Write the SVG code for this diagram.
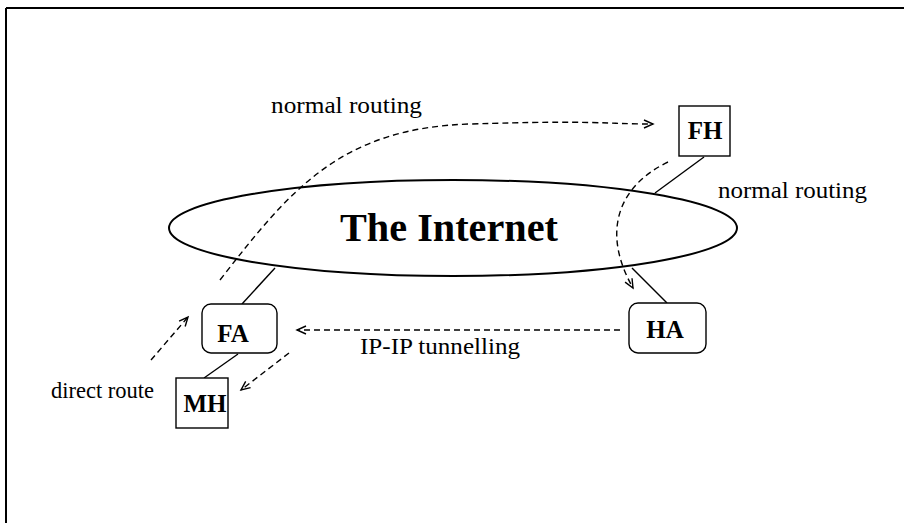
<svg xmlns="http://www.w3.org/2000/svg" width="904" height="523" viewBox="0 0 904 523">
  <style>
    .frame { stroke: #000; stroke-width: 2; fill: none; }
    .box { stroke: #000; stroke-width: 1.4; fill: #fff; }
    .link { stroke: #000; stroke-width: 1.4; fill: none; }
    .route { stroke: #000; stroke-width: 1.4; fill: none; stroke-dasharray: 6 4; marker-end: url(#arrow); }
    .lbl { font-family: "Liberation Serif", "Times New Roman", serif; font-size: 24px; fill: #000; }
    .name { font-family: "Liberation Serif", "Times New Roman", serif; font-size: 25px; font-weight: bold; fill: #000; text-anchor: middle; }
  </style>
  <defs>
    <marker id="arrow" markerWidth="12" markerHeight="10" refX="10" refY="5" orient="auto" markerUnits="userSpaceOnUse">
      <path d="M1,1 L10,5 L1,9" fill="none" stroke="#000" stroke-width="1.4"/>
    </marker>
  </defs>
  <rect width="904" height="523" fill="#fff"/>

  <!-- page frame -->
  <path class="frame" d="M6,8 H904 M6,8 V523"/>

  <!-- the internet cloud -->
  <g id="internet">
    <ellipse cx="453" cy="228" rx="284" ry="48" fill="none" stroke="#000" stroke-width="2"/>
    <text x="449" y="241" font-family="Liberation Serif, Times New Roman, serif" font-size="40" font-weight="bold" text-anchor="middle" textLength="218" lengthAdjust="spacingAndGlyphs">The Internet</text>
  </g>

  <!-- attachment lines and routes -->
  <g id="connectors">
    <line class="link" x1="704" y1="157" x2="655" y2="193"/>
    <line class="link" x1="632" y1="268" x2="667" y2="303"/>
    <line class="link" x1="242" y1="304" x2="275" y2="268"/>
    <line class="link" x1="204" y1="378" x2="238" y2="354"/>
    <path class="route" d="M220,280 C290,190 340,128 470,124 S600,124 653,124"/>
    <path class="route" d="M668,162 C620,185 600,230 633,288"/>
    <path class="route" d="M620,330 H297"/>
    <path class="route" d="M151,360 L188,317"/>
    <path class="route" d="M289,353 L241,390"/>
  </g>

  <g id="FH">
    <rect class="box" x="679" y="106" width="51" height="50"/>
    <text class="name" x="705" y="139">FH</text>
  </g>
  <g id="HA">
    <rect class="box" x="629" y="303" width="77" height="50" rx="9"/>
    <text class="name" x="665" y="338">HA</text>
  </g>
  <g id="FA">
    <rect class="box" x="202" y="304" width="75" height="49" rx="9"/>
    <text class="name" x="233" y="342">FA</text>
  </g>
  <g id="MH">
    <rect class="box" x="176" y="378" width="52" height="50"/>
    <text class="name" x="205" y="412">MH</text>
  </g>

  <!-- route labels -->
  <g id="labels">
    <text class="lbl" x="271" y="113" textLength="151" lengthAdjust="spacingAndGlyphs">normal routing</text>
    <text class="lbl" x="718" y="198" textLength="149" lengthAdjust="spacingAndGlyphs">normal routing</text>
    <text class="lbl" x="360" y="354" textLength="160" lengthAdjust="spacingAndGlyphs">IP-IP tunnelling</text>
    <text class="lbl" x="51" y="398" textLength="103" lengthAdjust="spacingAndGlyphs">direct route</text>
  </g>
</svg>
